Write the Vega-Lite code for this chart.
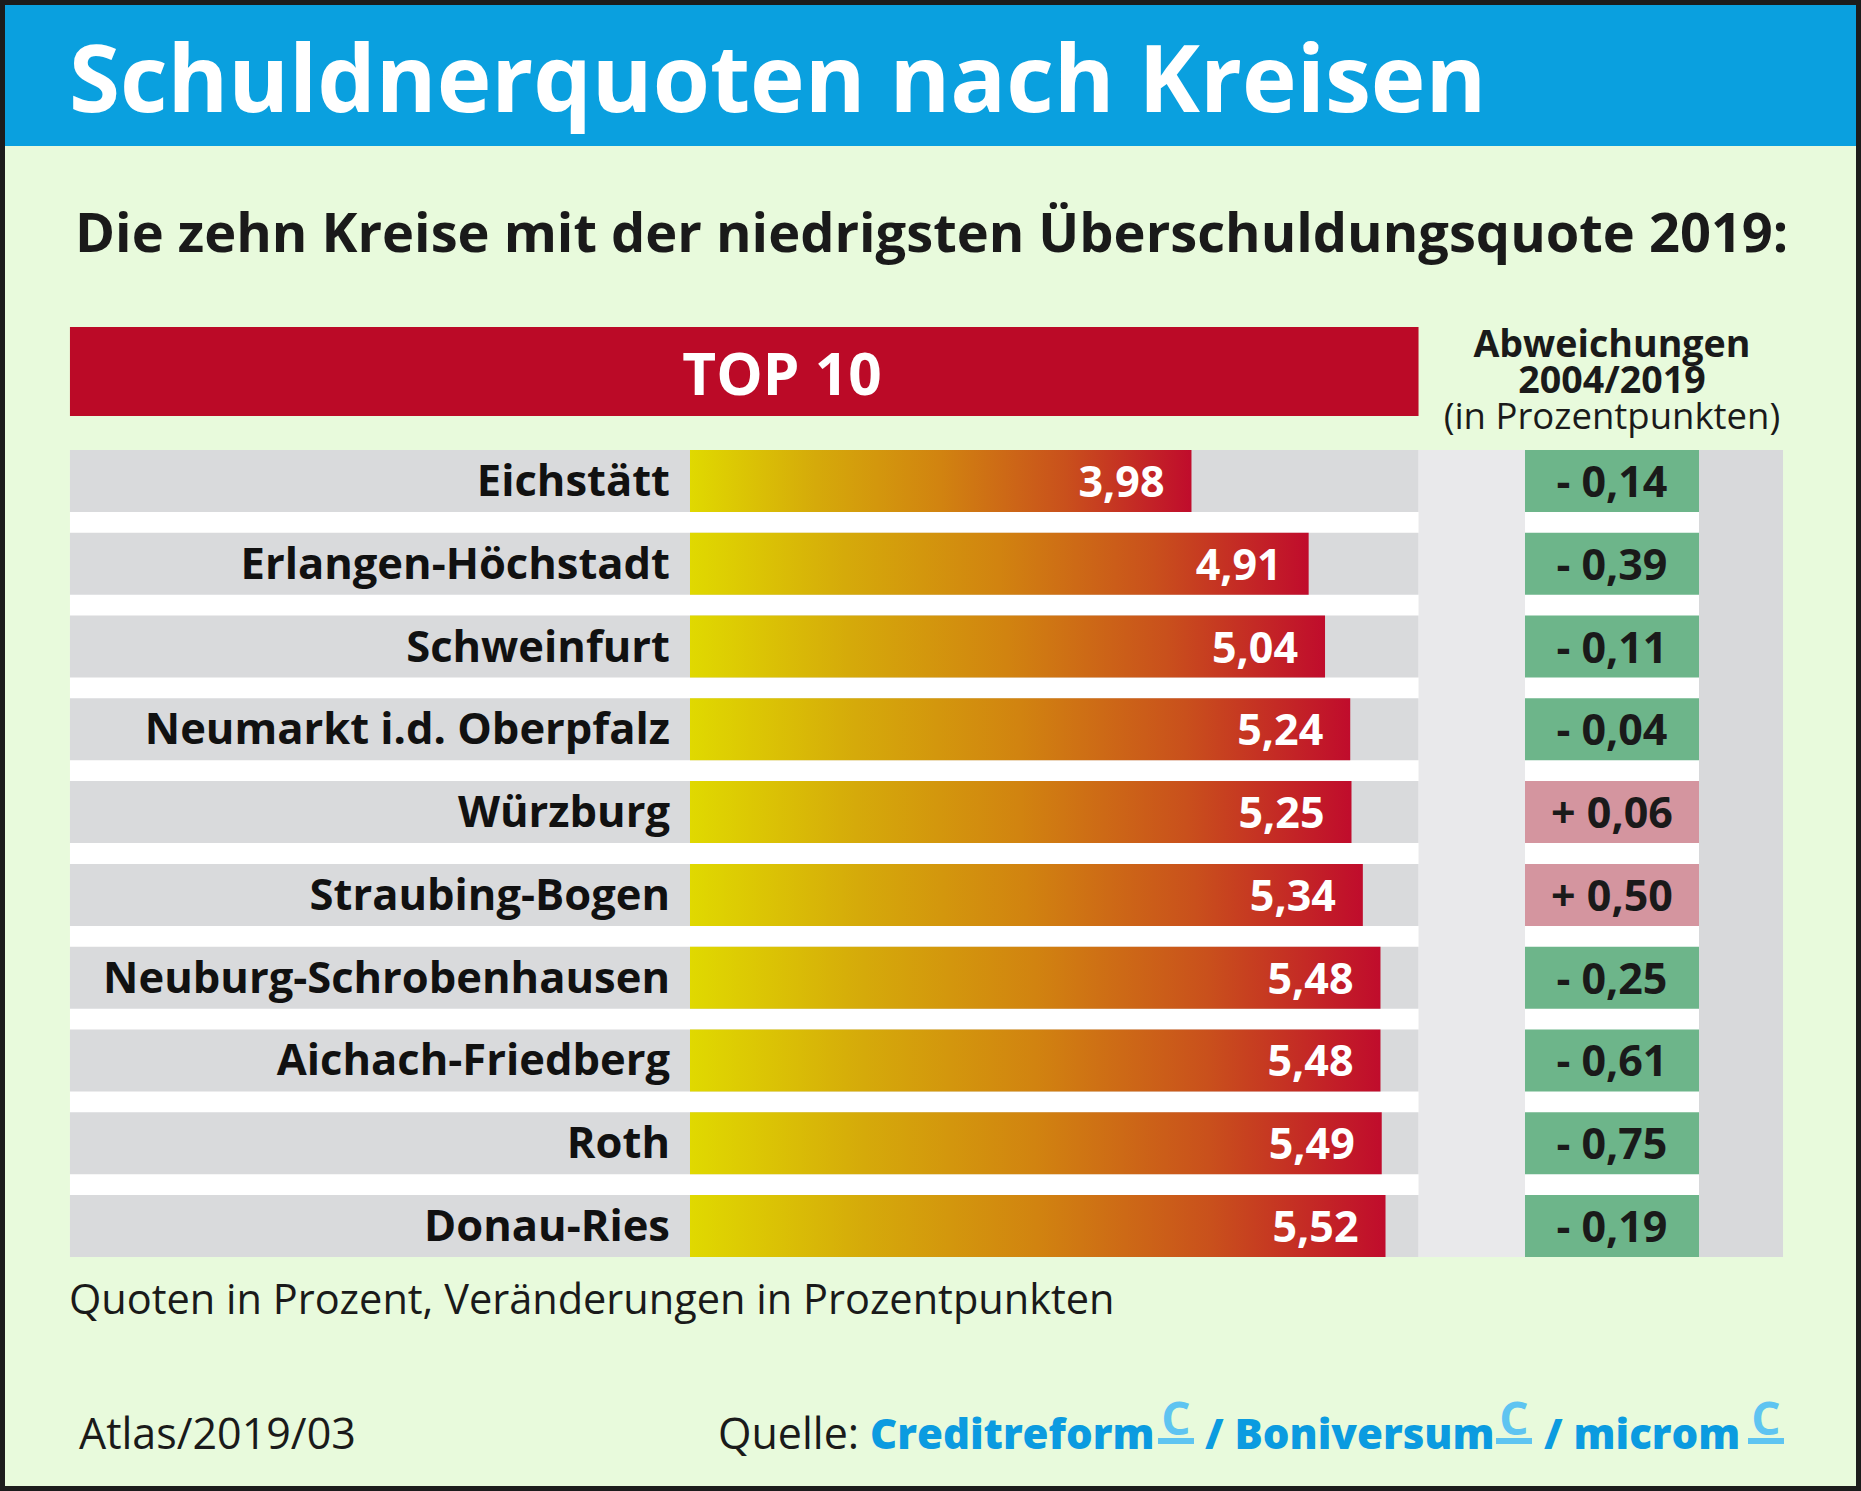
{
  "$schema": "https://vega.github.io/schema/vega-lite/v6.json",
  "padding": 5,
  "background": "#1c1c1c",
  "bounds": "flush",
  "spacing": 0,
  "config": {"view": {"stroke": null}, "text": {"font": "Open Sans"}},
  "vconcat": [
    {
      "width": 1851,
      "height": 141,
      "view": {"fill": "#0aa0df", "stroke": null},
      "data": {"values": [{"t": "Schuldnerquoten nach Kreisen"}]},
      "mark": {"type": "text", "align": "left", "baseline": "alphabetic", "font": "Open Sans", "fontWeight": "bold", "fontSize": 92.5, "color": "#ffffff"},
      "encoding": {"text": {"field": "t"}, "x": {"value": 64}, "y": {"value": 107}}
    },
    {
      "width": 1851,
      "height": 304,
      "view": {"fill": "#e8fadc", "stroke": null},
      "data": {"values": [{}]},
      "layer": [
        {
          "mark": {"type": "text", "align": "left", "baseline": "alphabetic", "fontWeight": "bold", "fontSize": 54.2, "color": "#1a1a1a", "text": "Die zehn Kreise mit der niedrigsten Überschuldungsquote 2019:"},
          "encoding": {"x": {"value": 70}, "y": {"value": 106}}
        },
        {
          "mark": {"type": "rect", "color": "#bb0a27"},
          "encoding": {
            "x": {"datum": -4.921, "type": "quantitative", "scale": {"domain": [-5.4365, 9.254], "nice": false, "zero": false}, "axis": null},
            "x2": {"datum": 5.782},
            "y": {"value": 181}, "y2": {"value": 270}
          }
        },
        {
          "mark": {"type": "text", "align": "center", "baseline": "alphabetic", "fontWeight": "bold", "fontSize": 58.5, "color": "#ffffff", "text": "TOP 10"},
          "encoding": {"x": {"datum": 0.73, "type": "quantitative"}, "y": {"value": 249}}
        },
        {
          "mark": {"type": "text", "align": "center", "baseline": "alphabetic", "fontWeight": "bold", "fontSize": 37.6, "lineHeight": 35.5, "color": "#1a1a1a", "text": ["Abweichungen", "2004/2019"]},
          "encoding": {"x": {"datum": 7.317, "type": "quantitative"}, "y": {"value": 211}}
        },
        {
          "mark": {"type": "text", "align": "center", "baseline": "alphabetic", "fontSize": 36.5, "color": "#1a1a1a", "text": "(in Prozentpunkten)"},
          "encoding": {"x": {"datum": 7.317, "type": "quantitative"}, "y": {"value": 283}}
        }
      ]
    },
    {
      "width": 1851,
      "height": 807,
      "view": {"fill": "#e8fadc", "stroke": null},
      "data": {"values": [
        {"Kreis": "Eichstätt", "Quote": 3.98, "Abw": -0.14},
        {"Kreis": "Erlangen-Höchstadt", "Quote": 4.91, "Abw": -0.39},
        {"Kreis": "Schweinfurt", "Quote": 5.04, "Abw": -0.11},
        {"Kreis": "Neumarkt i.d. Oberpfalz", "Quote": 5.24, "Abw": -0.04},
        {"Kreis": "Würzburg", "Quote": 5.25, "Abw": 0.06},
        {"Kreis": "Straubing-Bogen", "Quote": 5.34, "Abw": 0.5},
        {"Kreis": "Neuburg-Schrobenhausen", "Quote": 5.48, "Abw": -0.25},
        {"Kreis": "Aichach-Friedberg", "Quote": 5.48, "Abw": -0.61},
        {"Kreis": "Roth", "Quote": 5.49, "Abw": -0.75},
        {"Kreis": "Donau-Ries", "Quote": 5.52, "Abw": -0.19}
      ]},
      "layer": [
        {
          "data": {"values": [{}]},
          "mark": {"type": "rect", "color": "#ffffff"},
          "encoding": {
            "x": {"datum": -4.921, "type": "quantitative", "scale": {"domain": [-5.4365, 9.254], "nice": false, "zero": false}, "axis": null},
            "x2": {"datum": 8.675},
            "y": {"value": 0}, "y2": {"value": "height"}
          }
        },
        {
          "data": {"values": [{}]},
          "mark": {"type": "rect", "color": "#e9e9eb"},
          "encoding": {
            "x": {"datum": 5.782, "type": "quantitative"},
            "x2": {"datum": 6.627},
            "y": {"value": 0}, "y2": {"value": "height"}
          }
        },
        {
          "data": {"values": [{}]},
          "mark": {"type": "rect", "color": "#d8d9db"},
          "encoding": {
            "x": {"datum": 8.008, "type": "quantitative"},
            "x2": {"datum": 8.675},
            "y": {"value": 0}, "y2": {"value": "height"}
          }
        },
        {
          "mark": {"type": "rect", "color": "#d9dadc"},
          "encoding": {
            "x": {"datum": -4.921, "type": "quantitative"},
            "x2": {"datum": 5.782},
            "y": {"field": "Kreis", "type": "nominal", "sort": null, "scale": {"paddingInner": 0.251, "paddingOuter": 0}, "axis": null}
          }
        },
        {
          "mark": {"type": "bar", "color": {"gradient": "linear", "x1": 0, "y1": 0, "x2": 1, "y2": 0, "stops": [
            {"offset": 0, "color": "#e0d900"},
            {"offset": 0.25, "color": "#d5aa0a"},
            {"offset": 0.5, "color": "#d18310"},
            {"offset": 0.75, "color": "#c9501c"},
            {"offset": 1, "color": "#c00c2c"}
          ]}},
          "encoding": {
            "x": {"field": "Quote", "type": "quantitative"},
            "x2": {"datum": 0},
            "y": {"field": "Kreis", "type": "nominal", "sort": null}
          }
        },
        {
          "transform": [{"calculate": "replace(format(datum.Quote, '.2f'), '.', ',')", "as": "QuoteText"}],
          "mark": {"type": "text", "align": "right", "baseline": "middle", "dx": -27, "dy": 3, "fontWeight": "bold", "fontSize": 43, "color": "#ffffff"},
          "encoding": {
            "x": {"field": "Quote", "type": "quantitative"},
            "y": {"field": "Kreis", "type": "nominal", "sort": null},
            "text": {"field": "QuoteText"}
          }
        },
        {
          "mark": {"type": "text", "align": "right", "baseline": "middle", "dx": -20, "dy": 2, "fontWeight": "bold", "fontSize": 43.5, "color": "#111111"},
          "encoding": {
            "x": {"datum": 0, "type": "quantitative"},
            "y": {"field": "Kreis", "type": "nominal", "sort": null},
            "text": {"field": "Kreis"}
          }
        },
        {
          "mark": {"type": "rect"},
          "encoding": {
            "x": {"datum": 6.627, "type": "quantitative"},
            "x2": {"datum": 8.008},
            "y": {"field": "Kreis", "type": "nominal", "sort": null},
            "color": {"condition": {"test": "datum.Abw > 0", "value": "#d4959f"}, "value": "#6db58a"}
          }
        },
        {
          "transform": [{"calculate": "(datum.Abw < 0 ? '- ' : '+ ') + replace(format(abs(datum.Abw), '.2f'), '.', ',')", "as": "AbwText"}],
          "mark": {"type": "text", "align": "center", "baseline": "middle", "dy": 3, "fontWeight": "bold", "fontSize": 43, "color": "#1a1a1a"},
          "encoding": {
            "x": {"datum": 7.317, "type": "quantitative"},
            "y": {"field": "Kreis", "type": "nominal", "sort": null},
            "text": {"field": "AbwText"}
          }
        }
      ]
    },
    {
      "width": 1851,
      "height": 229,
      "view": {"fill": "#e8fadc", "stroke": null},
      "data": {"values": [{}]},
      "layer": [
        {
          "mark": {"type": "text", "align": "left", "baseline": "alphabetic", "fontSize": 41.5, "color": "#1a1a1a", "text": "Quoten in Prozent, Veränderungen in Prozentpunkten"},
          "encoding": {"x": {"value": 64}, "y": {"value": 57}}
        },
        {
          "mark": {"type": "text", "align": "left", "baseline": "alphabetic", "fontSize": 43, "color": "#1a1a1a", "text": "Atlas/2019/03"},
          "encoding": {"x": {"value": 74}, "y": {"value": 192}}
        },
        {
          "mark": {"type": "text", "align": "left", "baseline": "alphabetic", "fontSize": 43, "color": "#1a1a1a", "text": "Quelle:"},
          "encoding": {"x": {"value": 713}, "y": {"value": 192}}
        },
        {
          "mark": {"type": "text", "align": "left", "baseline": "alphabetic", "fontSize": 42, "fontWeight": 800, "color": "#0b9be0", "text": "Creditreform"},
          "encoding": {"x": {"value": 865}, "y": {"value": 192}}
        },
        {
          "mark": {"type": "text", "align": "left", "baseline": "alphabetic", "fontSize": 42, "fontWeight": 800, "color": "#0b9be0", "text": "/ Boniversum"},
          "encoding": {"x": {"value": 1200}, "y": {"value": 192}}
        },
        {
          "mark": {"type": "text", "align": "left", "baseline": "alphabetic", "fontSize": 42, "fontWeight": 800, "color": "#0b9be0", "text": "/ microm"},
          "encoding": {"x": {"value": 1539}, "y": {"value": 192}}
        },
        {
          "mark": {"type": "text", "align": "center", "baseline": "alphabetic", "fontSize": 46, "fontWeight": "bold", "color": "#5ec4f1", "text": "C"},
          "encoding": {"x": {"value": 1171}, "y": {"value": 178}}
        },
        {
          "mark": {"type": "text", "align": "center", "baseline": "alphabetic", "fontSize": 46, "fontWeight": "bold", "color": "#5ec4f1", "text": "C"},
          "encoding": {"x": {"value": 1509}, "y": {"value": 178}}
        },
        {
          "mark": {"type": "text", "align": "center", "baseline": "alphabetic", "fontSize": 46, "fontWeight": "bold", "color": "#5ec4f1", "text": "C"},
          "encoding": {"x": {"value": 1761}, "y": {"value": 178}}
        },
        {
          "mark": {"type": "tick", "orient": "horizontal", "size": 36, "thickness": 6, "color": "#5ec4f1", "opacity": 1},
          "encoding": {"x": {"value": 1171}, "y": {"value": 184}}
        },
        {
          "mark": {"type": "tick", "orient": "horizontal", "size": 36, "thickness": 6, "color": "#5ec4f1", "opacity": 1},
          "encoding": {"x": {"value": 1509}, "y": {"value": 184}}
        },
        {
          "mark": {"type": "tick", "orient": "horizontal", "size": 36, "thickness": 6, "color": "#5ec4f1", "opacity": 1},
          "encoding": {"x": {"value": 1761}, "y": {"value": 184}}
        }
      ]
    }
  ]
}
